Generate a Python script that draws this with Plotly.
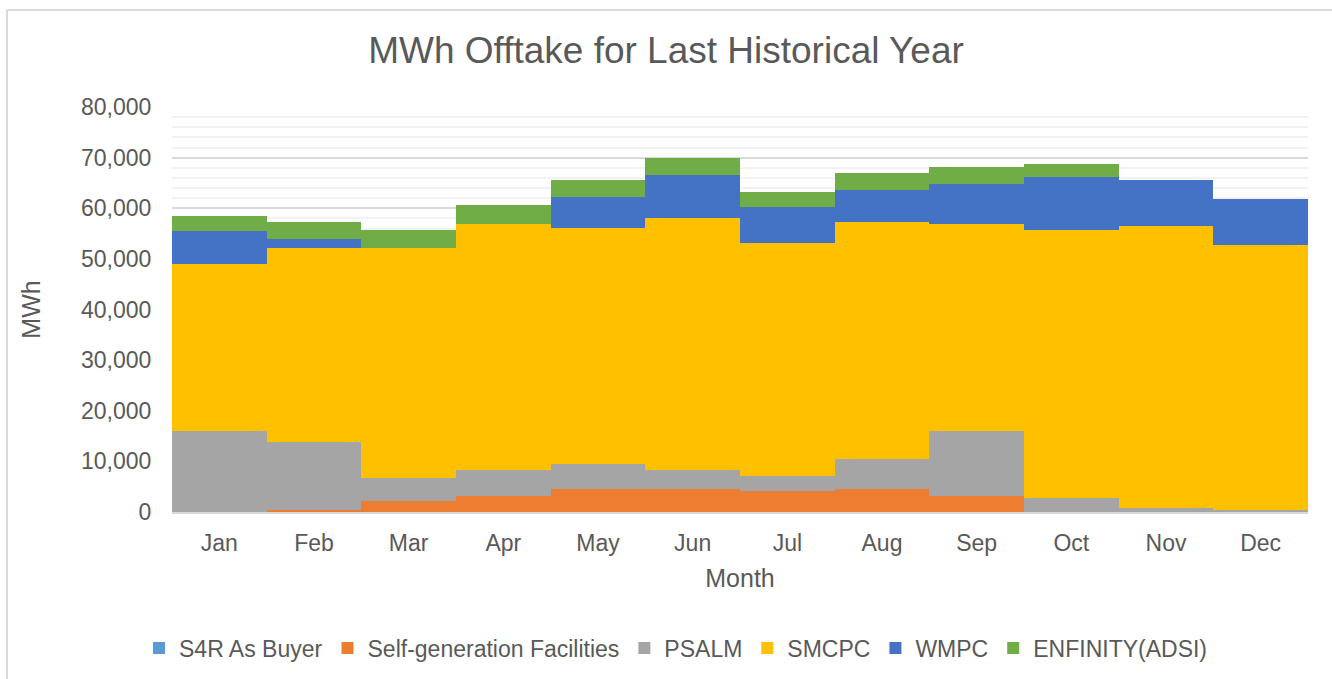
import plotly.graph_objects as go

months = ["Jan", "Feb", "Mar", "Apr", "May", "Jun", "Jul", "Aug", "Sep", "Oct", "Nov", "Dec"]
s4r_as_buyer = [0, 0, 0, 0, 0, 0, 0, 0, 0, 0, 0, 0]
self_generation = [0, 450, 2080, 3260, 4580, 4580, 4110, 4580, 3260, 0, 0, 0]
psalm = [16000, 13340, 4600, 5000, 5000, 3760, 3040, 5850, 12650, 2800, 830, 430]
smcpc = [32900, 38400, 45520, 48550, 46440, 49790, 45910, 46840, 40960, 52820, 55580, 52230]
wmpc = [6700, 1700, 0, 0, 6180, 8420, 7170, 6320, 7900, 10480, 9230, 9230]
enfinity = [2900, 3370, 3420, 3750, 3440, 3360, 2900, 3360, 3360, 2570, 0, 0]

series = [
    ("S4R As Buyer", s4r_as_buyer, "#5B9BD5"),
    ("Self-generation Facilities", self_generation, "#ED7D31"),
    ("PSALM", psalm, "#A5A5A5"),
    ("SMCPC", smcpc, "#FFC000"),
    ("WMPC", wmpc, "#4472C4"),
    ("ENFINITY(ADSI)", enfinity, "#70AD47"),
]

FONT = "Liberation Sans, Arial, sans-serif"
TXT = "#595959"

fig = go.Figure()
for name, vals, color in series:
    fig.add_trace(go.Bar(x=months, y=vals, name=name, marker=dict(color=color, line=dict(width=0))))

fig.update_layout(
    barmode="stack",
    bargap=0,
    width=1332,
    height=679,
    paper_bgcolor="white",
    plot_bgcolor="white",
    margin=dict(l=172, r=24, t=107, b=167, autoexpand=False),
    title=dict(text="MWh Offtake for Last Historical Year", x=0.5, xanchor="center",
               y=1 - 50 / 679, yanchor="middle",
               font=dict(family=FONT, size=37, color=TXT)),
    font=dict(family=FONT, color=TXT),
    showlegend=True,
    legend=dict(orientation="h", x=(676 - 172) / 1136, xanchor="center", xref="paper",
                y=(512 - 648) / 405, yanchor="middle",
                font=dict(family=FONT, size=23, color=TXT),
                itemwidth=30, traceorder="normal", bgcolor="rgba(0,0,0,0)"),
    xaxis=dict(
        showgrid=False, showline=True, linecolor="#D9D9D9", linewidth=1.5,
        ticks="outside", ticklen=10, tickcolor="rgba(0,0,0,0)",
        tickfont=dict(family=FONT, size=23, color=TXT),
        title=dict(text="Month", standoff=14, font=dict(family=FONT, size=25, color=TXT)),
    ),
    yaxis=dict(
        range=[0, 80000], dtick=10000, tickformat=",d",
        showgrid=True, gridcolor="#D9D9D9", gridwidth=1.5,
        minor=dict(dtick=2000, showgrid=True, gridcolor="#F2F2F2", gridwidth=1.5),
        zeroline=False, showline=False,
        ticks="outside", ticklen=15, tickcolor="rgba(0,0,0,0)",
        tickfont=dict(family=FONT, size=23, color=TXT),
        title=dict(text="MWh", standoff=33, font=dict(family=FONT, size=25, color=TXT)),
    ),
    shapes=[
        dict(type="line", xref="paper", yref="paper", x0=(7 - 172) / 1136, x1=(1345 - 172) / 1136,
             y0=(512 - 10) / 405, y1=(512 - 10) / 405, line=dict(color="#D9D9D9", width=2), layer="below"),
        dict(type="line", xref="paper", yref="paper", x0=(7 - 172) / 1136, x1=(7 - 172) / 1136,
             y0=(512 - 10) / 405, y1=(512 - 700) / 405, line=dict(color="#D9D9D9", width=2), layer="below"),
    ],
)

fig.write_html("out.html", config={"displayModeBar": False},
               post_script="document.body.style.margin='0';document.body.style.overflow='hidden';")
